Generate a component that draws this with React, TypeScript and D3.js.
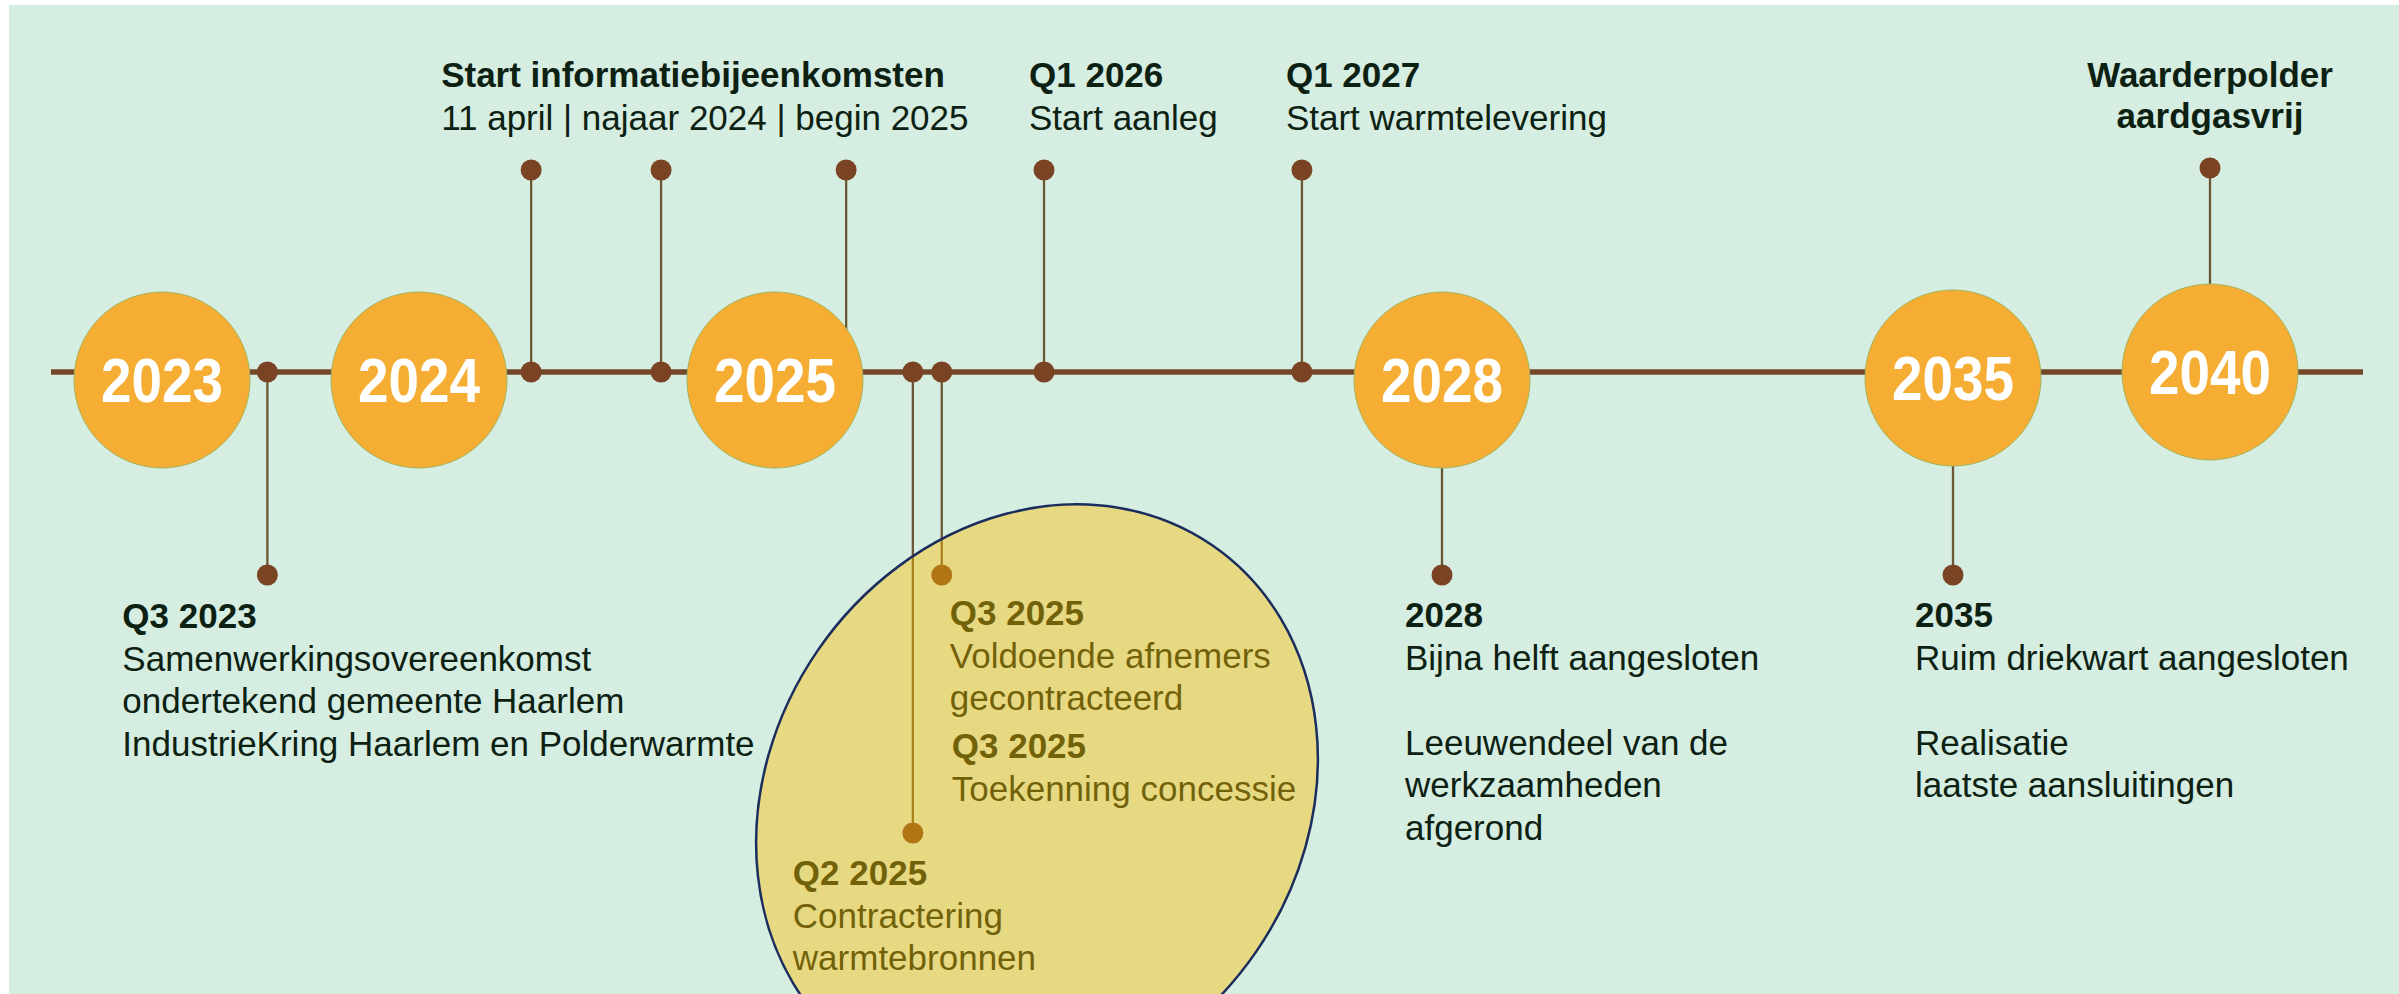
import React from 'react';
import * as d3 from 'd3';

// ---------- DATA ----------
const milestoneYears = [2023, 2024, 2025, 2028, 2035, 2040];
const milestoneLabels = ['2023', '2024', '2025', '2028', '2035', '2040'];

// events on the timeline (decimal year)
const eventNames = ['Q3 2023', '11 april 2024', 'najaar 2024', 'begin 2025', 'Q2 2025', 'Q3 2025', 'Q1 2026', 'Q1 2027', '2028', '2035', '2040'];
const eventDates = [2023.41, 2024.315, 2024.68, 2025.32, 2025.62, 2025.75, 2026.21, 2027.37, 2028, 2035, 2040];
const eventSides = ['below', 'above', 'above', 'above', 'below', 'below', 'above', 'above', 'below', 'below', 'above'];

// text blocks, each attached to an event
const labelEvent = [1, 6, 7, 10, 0, 5, 5, 4, 8, 9];
const labelBold = [
  ['Start informatiebijeenkomsten'],
  ['Q1 2026'],
  ['Q1 2027'],
  ['Waarderpolder', 'aardgasvrij'],
  ['Q3 2023'],
  ['Q3 2025'],
  ['Q3 2025'],
  ['Q2 2025'],
  ['2028'],
  ['2035'],
];
const labelRegular = [
  ['11 april | najaar 2024 | begin 2025'],
  ['Start aanleg'],
  ['Start warmtelevering'],
  [],
  ['Samenwerkingsovereenkomst', 'ondertekend gemeente Haarlem', 'IndustrieKring Haarlem en Polderwarmte'],
  ['Voldoende afnemers', 'gecontracteerd'],
  ['Toekenning concessie'],
  ['Contractering', 'warmtebronnen'],
  ['Bijna helft aangesloten', '', 'Leeuwendeel van de', 'werkzaamheden', 'afgerond'],
  ['Ruim driekwart aangesloten', '', 'Realisatie', 'laatste aansluitingen'],
];

// ---------- LAYOUT ----------
const W = 2399;
const H = 994;
const lineY = 372;
const circleY = 380;
const circleDy = [0, 0, 0, 0, -2, -8];
const circleR = 88;
const dotR = 10.5;
const axisStops = [162, 419, 775, 1442, 1953, 2210];
const stemEnd: Record<string, number> = { above: 170, below: 575 };
const stemEndOverride: Record<number, number> = { 4: 833, 10: 168 };
const labelLayout = [
  { dx: -90, y: 87, anchor: 'start' },
  { dx: -15, y: 87, anchor: 'start' },
  { dx: -16, y: 87, anchor: 'start' },
  { dx: 0, y: 87, anchor: 'middle' },
  { dx: -145, y: 628, anchor: 'start' },
  { dx: 8, y: 625, anchor: 'start' },
  { dx: 10, y: 758, anchor: 'start' },
  { dx: -120, y: 885, anchor: 'start' },
  { dx: -37, y: 627, anchor: 'start' },
  { dx: -38, y: 627, anchor: 'start' },
];
const lineH = 42.5;
const FONT = "'Liberation Sans', Arial, Helvetica, sans-serif";
const C = {
  bg: '#d6ede1',
  line: '#74492a',
  dot: '#7a4323',
  stem: '#6b5733',
  circle: '#f5ae33',
  circleStroke: '#a5b35a',
  text: '#0c2112',
  overlay: '#ffbd00',
  overlayStroke: '#1b2d5c',
};
const highlight = { cx: 1037, cy: 801, rx: 266, ry: 310, angle: 34.5 };

export default function App() {
  const x = d3.scaleLinear().domain(milestoneYears).range(axisStops);
  const milestonesX = milestoneYears.map((y) => x(y));
  const evX = eventDates.map((d) => x(d));
  const hidden = evX.map((ex) => milestonesX.some((mx) => Math.abs(ex - mx) < circleR));

  return (
    <svg width={W} height={H} style={{ position: 'absolute', left: 0, top: 0, display: 'block' }} fontFamily={FONT}>
      <rect x={0} y={0} width={W} height={H} fill="#ffffff" />
      <rect x={9} y={5} width={W - 9} height={H - 5} fill={C.bg} />

      {/* main timeline */}
      <line x1={51} x2={2363} y1={lineY} y2={lineY} stroke={C.line} strokeWidth={5.5} />

      {/* stems */}
      {eventDates.map((_, i) => {
        const end = stemEndOverride[i] ?? stemEnd[eventSides[i]];
        return <line key={'s' + i} x1={evX[i]} x2={evX[i]} y1={lineY} y2={end} stroke={C.stem} strokeWidth={2.3} />;
      })}

      {/* milestone circles */}
      {milestoneYears.map((y, i) => {
        const cy = circleY + circleDy[i];
        return (
          <g key={'m' + y}>
            <circle cx={milestonesX[i]} cy={cy} r={circleR} fill={C.circle} stroke={C.circleStroke} strokeWidth={1} />
            <text
              transform={`translate(${milestonesX[i]},${cy + 22}) scale(0.87,1)`}
              textAnchor="middle"
              fontSize={63}
              fontWeight="bold"
              fill="#ffffff"
            >
              {milestoneLabels[i]}
            </text>
          </g>
        );
      })}

      {/* dots on the line and at stem ends */}
      {eventDates.map((_, i) => {
        const end = stemEndOverride[i] ?? stemEnd[eventSides[i]];
        return (
          <g key={'d' + i}>
            {!hidden[i] && <circle cx={evX[i]} cy={lineY} r={dotR} fill={C.dot} />}
            <circle cx={evX[i]} cy={end} r={dotR} fill={C.dot} />
          </g>
        );
      })}

      {/* labels */}
      {labelEvent.map((ei, i) => {
        const L = labelLayout[i];
        const lx = evX[ei] + L.dx;
        const bold = labelBold[i];
        const reg = labelRegular[i];
        return (
          <g key={'l' + i} fill={C.text} fontSize={35} textAnchor={L.anchor}>
            {bold.map((t, k) => (
              <text key={'b' + k} x={lx} y={L.y + k * lineH * 0.97} fontWeight="bold">
                {t}
              </text>
            ))}
            {reg.map((t, k) => (
              <text key={'r' + k} x={lx} y={L.y + (bold.length + k) * lineH}>
                {t}
              </text>
            ))}
          </g>
        );
      })}

      {/* highlighted ellipse */}
      <ellipse
        cx={highlight.cx}
        cy={highlight.cy}
        rx={highlight.rx}
        ry={highlight.ry}
        transform={`rotate(${highlight.angle},${highlight.cx},${highlight.cy})`}
        fill={C.overlay}
        fillOpacity={0.42}
        stroke={C.overlayStroke}
        strokeWidth={2.5}
      />
    </svg>
  );
}
